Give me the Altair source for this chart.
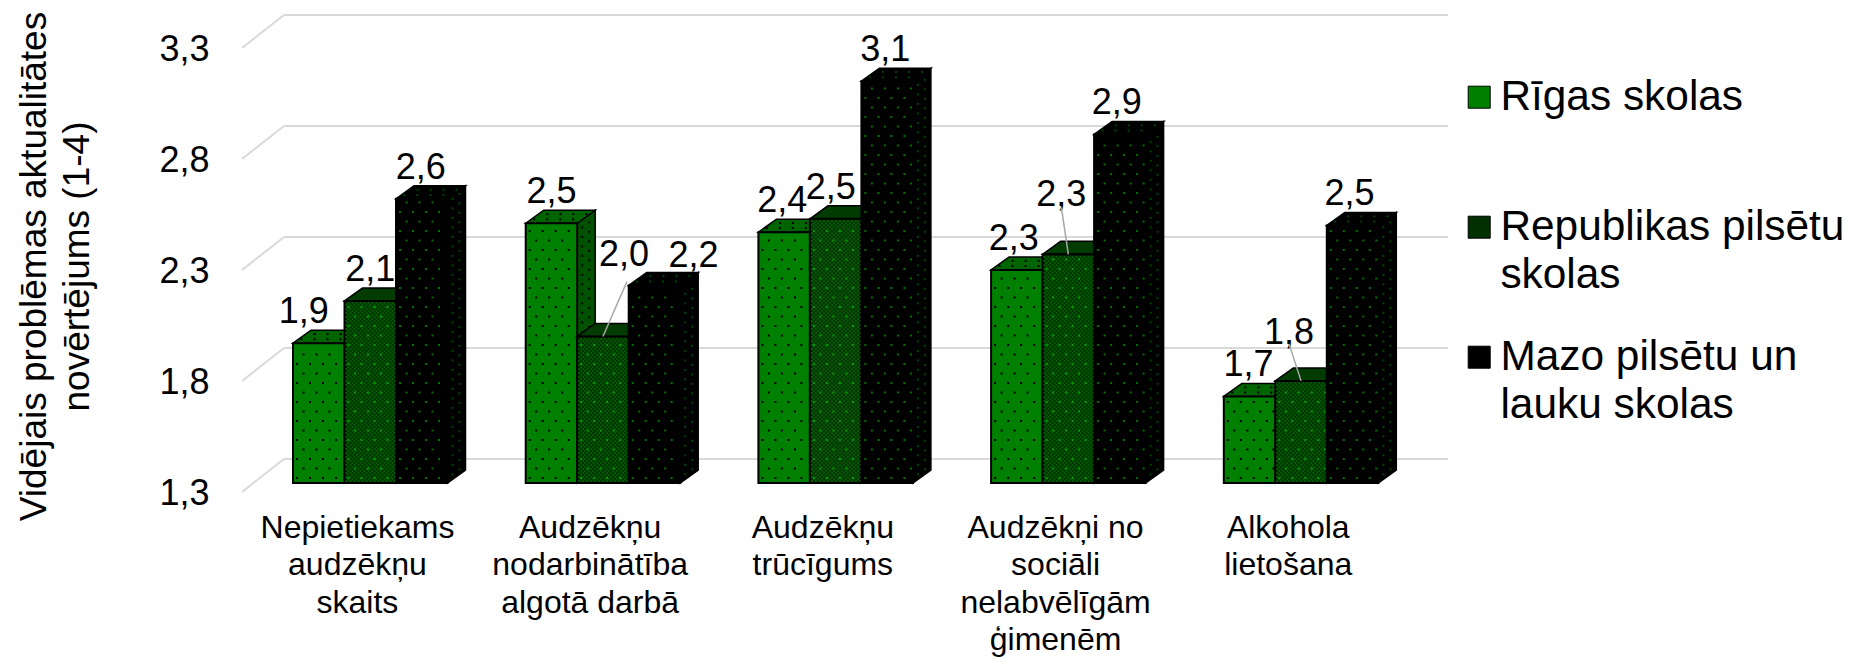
import altair as alt
import pandas as pd

categories = ["Nepietiekams\naudzēkņu\nskaits", "Audzēkņu\nnodarbinātība\nalgotā darbā", "Audzēkņu\ntrūcīgums",
              "Audzēkņi no\nsociāli\nnelabvēlīgām\nģimenēm", "Alkohola\nlietošana"]
series = ["Rīgas skolas", "Republikas pilsētu skolas", "Mazo pilsētu un lauku skolas"]
riga = [1.93, 2.47, 2.43, 2.26, 1.69]
republika = [2.12, 1.96, 2.49, 2.33, 1.76]
mazo = [2.58, 2.19, 3.11, 2.87, 2.46]
values = [riga, republika, mazo]
ticks = [1.3, 1.8, 2.3, 2.8, 3.3]
label_dx = [[-15, 0, -1], [0, 21, 39], [-2, -5, -2], [-3, -7, -3], [-1, -12, -3]]
label_lift = [[7, 7, 7], [7, 57, 5], [7, 7, 7], [7, 35, 7], [7, 24, 7]]
leaders = [(1, 1, 24, 40), (3, 1, -7, 32), (4, 1, -12, 22)]  # group, series, label dx, line height

FRONT = ["#008000", "#013001", "#000000"]
TOP = ["#006400", "#023c02", "#000000"]
SIDE = ["#005200", "#013001", "#000000"]
DOT = ["#000000", "#005c00", "#007000"]
ACCENT = ["#000000", "#0a9a0a", "#004400"]
FONT = "Liberation Sans"

U = 232.7      # px per group on x
PY = 222.0     # px per value unit on y
W, H = 1606, 473
BW = 51.5 / U  # bar width
X0 = 51 / U    # first bar offset in group
DX, DY = 18 / U, 13 / PY   # bar depth
FX, FY = 42 / U, 24 / PY   # floor depth
BASE = 1.3

xs = alt.Scale(domain=[0, W / U], range=[0, W], nice=False, zero=False)
ys = alt.Scale(domain=[BASE, BASE + H / PY], range=[H, 0], nice=False, zero=False)

x_axis = alt.Axis(
    values=[i + 0.494 for i in range(5)], title=None, ticks=False, domain=False, grid=False,
    labelExpr="split(" + str(categories).replace("\\n", "|") + "[floor(datum.value)], '|')",
    labelFont=FONT, labelFontSize=32, labelColor="#000", labelLineHeight=37.6, labelPadding=29,
    labelOverlap=False, labelFlush=False, labelBound=False, labelLimit=400, labelBaseline="top", labelAngle=0,
)
y_axis = alt.Axis(
    values=ticks, title=["Vidējais problēmas aktualitātes", "novērtējums (1-4)"],
    ticks=False, domain=False, grid=False, labelOffset=10, labelPadding=33,
    labelExpr="replace(format(datum.value, '.1f'), '.', ',')",
    labelFont=FONT, labelFontSize=36, labelColor="#000", labelOverlap=False, labelBound=False, labelFlush=False,
    titleFont=FONT, titleFontSize=37, titleFontWeight="normal", titleColor="#000", titleLineHeight=43,
    titleX=-197, titleY=256, titleAlign="center", titleBaseline="alphabetic",
)


def X(f="x"):
    return alt.X(f"{f}:Q", scale=xs, axis=x_axis)


def Y(f="y"):
    return alt.Y(f"{f}:Q", scale=ys, axis=y_axis)


def bar_left(g, s):
    return g + X0 + s * BW


layers = []

# gridlines
grid_rows = []
for t in ticks:
    grid_rows.append(dict(x=FX, x2=(1448 - 242) / U, y=t + FY, y2=t + FY))
    grid_rows.append(dict(x=0, x2=FX, y=t - 9 / PY, y2=t + FY))
grid = pd.DataFrame(grid_rows)
layers.append(
    alt.Chart(grid).mark_rule(color="#d9d9d9", strokeWidth=2).encode(x=X(), x2="x2:Q", y=Y(), y2="y2:Q")
)

for s, name in enumerate(series):
    front, side, top, dots, accents = [], [], [], [], []
    for g in range(5):
        v = values[s][g]
        L = bar_left(g, s)
        R = L + BW
        front.append(dict(s=name, x=L, x2=R, y=BASE, y2=v))
        side.append(dict(id=g, x=R, y=v, y2=BASE))
        side.append(dict(id=g, x=R + DX, y=v + DY, y2=BASE + DY))
        top.append(dict(id=g, x=L, y=v, y2=v))
        top.append(dict(id=g, x=L + DX, y=v + DY, y2=v))
        top.append(dict(id=g, x=R, y=v + DY, y2=v))
        top.append(dict(id=g, x=R + DX, y=v + DY, y2=v + DY))
        # texture of the pattern fill
        if s == 1:
            row = 0
            yy = BASE + 2 / PY
            while yy < v - 1 / PY:
                xx = L + (2 if row % 2 else 0) / U + 2 / U
                while xx < R - 1 / U:
                    dots.append(dict(x=xx, y=yy))
                    xx += 4 / U
                yy += 2 / PY
                row += 1
        row = 0
        yy = BASE + 5 / PY
        while yy < v - 3 / PY:
            xx = L + (6.5 if row % 2 else 0) / U + 4 / U
            while xx < R - 2 / U:
                (accents if s == 1 else dots).append(dict(x=xx, y=yy))
                xx += 13 / U
            if s != 1:
                frac = 5 / U
                while frac < DX - 1 / U:
                    accents.append(dict(x=R + frac, y=yy + frac * U / PY * 13 / 18))
                    frac += 7 / U
            yy += 9.5 / PY
            row += 1
        # dots on the top face
        if s != 1:
            for k, depth in enumerate((0.3, 0.7)):
                xx = L + depth * DX + (3 + 6 * k) / U
                while xx < R + depth * DX - 2 / U:
                    accents.append(dict(x=xx, y=v + depth * DY))
                    xx += 13 / U
    layers.append(
        alt.Chart(pd.DataFrame(side)).mark_area(fill=SIDE[s], stroke="#000", strokeWidth=1.5, opacity=1).encode(
            x=X(), y=Y(), y2="y2:Q", detail="id:N")
    )
    layers.append(
        alt.Chart(pd.DataFrame(top)).mark_area(fill=TOP[s], stroke="#000", strokeWidth=1.5, opacity=1).encode(
            x=X(), y=Y(), y2="y2:Q", detail="id:N")
    )
    layers.append(
        alt.Chart(pd.DataFrame(front)).mark_bar(stroke="#000", strokeWidth=2, opacity=1).encode(
            x=X(), x2="x2:Q", y=Y(), y2="y2:Q",
            color=alt.Color(
                "s:N", scale=alt.Scale(domain=series, range=FRONT),
                legend=alt.Legend(
                    title=None, orient="none", legendX=1216, legendY=66, padding=0, columns=1,
                    symbolType="square", symbolSize=484, symbolStrokeColor="#000", symbolStrokeWidth=1,
                    rowPadding=39, labelFont=FONT, labelFontSize=42.4, labelColor="#000", labelOffset=0,
                    labelLimit=500, labelBaseline="middle",
                    labelExpr="datum.label == 'Rīgas skolas' ? ['Rīgas skolas', ''] : "
                              "datum.label == 'Republikas pilsētu skolas' ? ['Republikas pilsētu', 'skolas'] : "
                              "['Mazo pilsētu un', 'lauku skolas']",
                ),
            ),
        )
    )
    layers.append(
        alt.Chart(pd.DataFrame(dots)).mark_square(size=4, color=DOT[s], opacity=1, strokeWidth=0).encode(x=X(), y=Y())
    )
    layers.append(
        alt.Chart(pd.DataFrame(accents)).mark_square(size=4, color=ACCENT[s], opacity=1, strokeWidth=0).encode(x=X(), y=Y())
    )

# value labels and their leader lines
lab = []
for g in range(5):
    for s in range(3):
        v = values[s][g]
        lab.append(dict(
            x=bar_left(g, s) + BW / 2 + label_dx[g][s] / U,
            y=v + DY + label_lift[g][s] / PY,
            t=f"{v:.1f}".replace(".", ","),
        ))
layers.append(
    alt.Chart(pd.DataFrame(lab)).mark_text(font=FONT, fontSize=36, color="#000", baseline="alphabetic", align="center").encode(
        x=X(), y=Y(), text="t:N")
)
lead = []
for g, s, dx, h in leaders:
    v = values[s][g]
    lead.append(dict(x=bar_left(g, s) + BW / 2, y=v, x2=bar_left(g, s) + BW / 2 + dx / U, y2=v + (h + 15) / PY))
layers.append(
    alt.Chart(pd.DataFrame(lead)).mark_rule(color="#a6a6a6", strokeWidth=1.5).encode(
        x=X(), x2="x2:Q", y=Y(), y2="y2:Q")
)

chart = (
    alt.layer(*layers)
    .properties(width=W, height=H, padding={"left": 234, "top": 2, "right": 0, "bottom": 175},
                autosize=alt.AutoSizeParams(type="none"))
    .configure(style={"guide-label": {"lineHeight": 48}})
    .configure_view(stroke=None)
)
chart.save("out.html", embed_options={"renderer": "svg", "actions": False})
